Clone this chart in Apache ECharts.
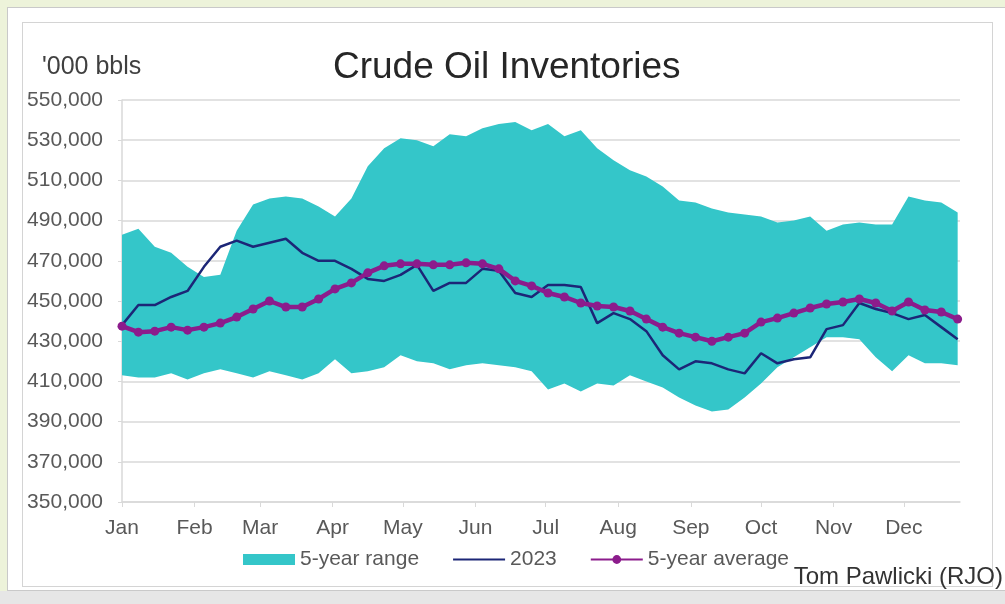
<!DOCTYPE html>
<html>
<head>
<meta charset="utf-8">
<title>Crude Oil Inventories</title>
<script src="https://cdn.jsdelivr.net/npm/echarts@6/dist/echarts.min.js"></script>
<style>
    html, body { margin: 0; padding: 0; background: #edf3da; }
    #wrap { position: relative; width: 1005px; height: 604px; overflow: hidden; }
    .panel { position: absolute; left: 7px; top: 7px; width: 1000px; height: 584px; background: #fff; border: 1px solid #c9c9c9; box-sizing: border-box; }
    .inner { position: absolute; left: 22px; top: 22px; width: 971px; height: 565px; border: 1px solid #d4d4d4; box-sizing: border-box; }
    .strip { position: absolute; left: 0; top: 591px; width: 1005px; height: 13px; background: #e6e6e6; }
    #chart { position: absolute; left: 0; top: 0; width: 1005px; height: 604px; }
</style>
</head>
<body>
<div id="wrap">
    <div class="panel"></div>
    <div class="inner"></div>
    <div class="strip"></div>
    <div id="chart"></div>
</div>
<script>
// 月份标签（按日计的起点，日期轴）
var months = ['Jan', 'Feb', 'Mar', 'Apr', 'May', 'Jun', 'Jul', 'Aug', 'Sep', 'Oct', 'Nov', 'Dec'];
var monthStartDays = [0, 31, 59, 90, 120, 151, 181, 212, 243, 273, 304, 334];

// weekly data, '000 bbls
var rangeHigh = [483000, 486000, 477000, 474000, 467000, 462000, 463000, 485000, 498000, 501000,
    502000, 501000, 497000, 492000, 501000, 517000, 526000, 531000, 530000, 527000,
    533000, 532000, 536000, 538000, 539000, 535000, 538000, 532000, 535000, 526000,
    520000, 515000, 512000, 507000, 500000, 499000, 496000, 494000, 493000, 492000,
    489000, 490000, 492000, 485000, 488000, 489000, 488000, 488000, 502000, 500000,
    499000, 494000];
var rangeLow = [413000, 412000, 412000, 414000, 411000, 414000, 416000, 414000, 412000, 415000,
    413000, 411000, 414000, 421000, 414000, 415000, 417000, 423000, 420000, 419000,
    416000, 418000, 419000, 418000, 417000, 415000, 406000, 409000, 405000, 409000,
    408000, 413000, 410000, 407000, 402000, 398000, 395000, 396000, 402000, 409000,
    417000, 422000, 427000, 432000, 432000, 431000, 422000, 415000, 423000, 419000,
    419000, 418000];
var y2023 = [438000, 448000, 448000, 452000, 455000, 467000, 477000, 480000, 477000, 479000,
    481000, 474000, 470000, 470000, 466000, 461000, 460000, 463000, 468000, 455000,
    459000, 459000, 466000, 465000, 454000, 452000, 458000, 458000, 457000, 439000,
    444000, 441000, 435000, 423000, 416000, 420000, 419000, 416000, 414000, 424000,
    419000, 421000, 422000, 436000, 438000, 449000, 446000, 444000, 441000, 443000,
    437000, 431000];
var avg5 = [437500, 434500, 435000, 437000, 435500, 437000, 439000, 442000, 446000, 450000,
    447000, 447000, 451000, 456000, 459000, 464000, 467500, 468500, 468500, 468000,
    468000, 469000, 468500, 466000, 460000, 457500, 454000, 452000, 449000, 447500,
    447000, 445000, 441000, 437000, 434000, 432000, 430000, 432000, 434000, 439500,
    441500, 444000, 446500, 448500, 449500, 451000, 449000, 445000, 449500, 445500,
    444500, 441000];

// 周数据对应的日序号
var weekDays = rangeHigh.map(function (v, i) { return i * 7; });

function pairs(arr) {
    return arr.map(function (v, i) { return [weekDays[i], v]; });
}
// 值放在第0维，堆叠才会落在y上
function pairsYFirst(arr) {
    return arr.map(function (v, i) { return [v, weekDays[i]]; });
}
var rangeSpan = rangeHigh.map(function (v, i) { return v - rangeLow[i]; });

var font = 'Liberation Sans, Arial, sans-serif';
var grey = '#595959';
var bandColor = '#34c6c9';

var chart = echarts.init(document.getElementById('chart'));
var option = {
    animation: false,
    title: {
        text: 'Crude Oil Inventories',
        left: 333,
        top: 49,
        padding: 0,
        textStyle: {
            fontFamily: font,
            fontSize: 37,
            fontWeight: 'normal',
            color: '#262626'
        }
    },
    graphic: [
        {
            type: 'text',
            left: 42,
            top: 55,
            style: {
                text: "'000 bbls",
                font: '25px ' + font,
                fill: '#404040'
            }
        },
        {
            type: 'text',
            right: 2,
            top: 565,
            style: {
                text: 'Tom Pawlicki (RJO)',
                font: '24px ' + font,
                fill: '#333'
            }
        }
    ],
    grid: {
        left: 122,
        top: 100,
        width: 838,
        height: 402,
        containLabel: false
    },
    legend: {
        left: 238,
        top: 544,
        itemWidth: 52,
        itemHeight: 11,
        itemGap: 33,
        textStyle: {
            fontFamily: font,
            fontSize: 21,
            color: grey
        },
        data: [
            {name: '5-year range', icon: 'rect'},
            {name: '2023', itemStyle: {opacity: 0}},
            {name: '5-year average'}
        ]
    },
    xAxis: {
        type: 'value',
        min: 0,
        max: 358,
        axisLine: {
            show: true,
            lineStyle: {color: '#d9d9d9', width: 1.5}
        },
        axisTick: {
            show: true,
            length: 5,
            customValues: monthStartDays,
            lineStyle: {color: '#d9d9d9'}
        },
        axisLabel: {
            customValues: monthStartDays,
            margin: 16,
            fontFamily: font,
            fontSize: 21,
            color: grey,
            formatter: function (v) {
                var idx = monthStartDays.indexOf(v);
                return idx >= 0 ? months[idx] : '';
            }
        },
        splitLine: {show: false}
    },
    yAxis: {
        type: 'value',
        min: 350000,
        max: 550000,
        interval: 20000,
        axisLine: {
            show: true,
            lineStyle: {color: '#d9d9d9', width: 1.5}
        },
        axisTick: {
            show: true,
            length: 4,
            lineStyle: {color: '#d9d9d9'}
        },
        axisLabel: {
            margin: 19,
            fontFamily: font,
            fontSize: 21,
            color: grey,
            formatter: function (v) {
                return v.toLocaleString('en-US');
            }
        },
        splitLine: {
            show: true,
            lineStyle: {color: '#d9d9d9', width: 1.5}
        }
    },
    series: [
        {
            name: 'rangeBase',
            type: 'line',
            stack: 'band',
            encode: {x: 1, y: 0},
            symbol: 'none',
            silent: true,
            lineStyle: {width: 0, opacity: 0},
            data: pairsYFirst(rangeLow)
        },
        {
            name: '5-year range',
            type: 'line',
            stack: 'band',
            encode: {x: 1, y: 0},
            symbol: 'none',
            silent: true,
            itemStyle: {color: bandColor},
            lineStyle: {width: 0, opacity: 0},
            areaStyle: {color: bandColor, opacity: 1},
            data: pairsYFirst(rangeSpan)
        },
        {
            name: '2023',
            type: 'line',
            symbol: 'none',
            itemStyle: {color: '#1c2677'},
            lineStyle: {color: '#1c2677', width: 2.5},
            data: pairs(y2023)
        },
        {
            name: '5-year average',
            type: 'line',
            symbol: 'circle',
            symbolSize: 9,
            itemStyle: {color: '#8c1c8c'},
            lineStyle: {color: '#8c1c8c', width: 4.5},
            data: pairs(avg5)
        }
    ]
};
chart.setOption(option);
</script>
</body>
</html>
